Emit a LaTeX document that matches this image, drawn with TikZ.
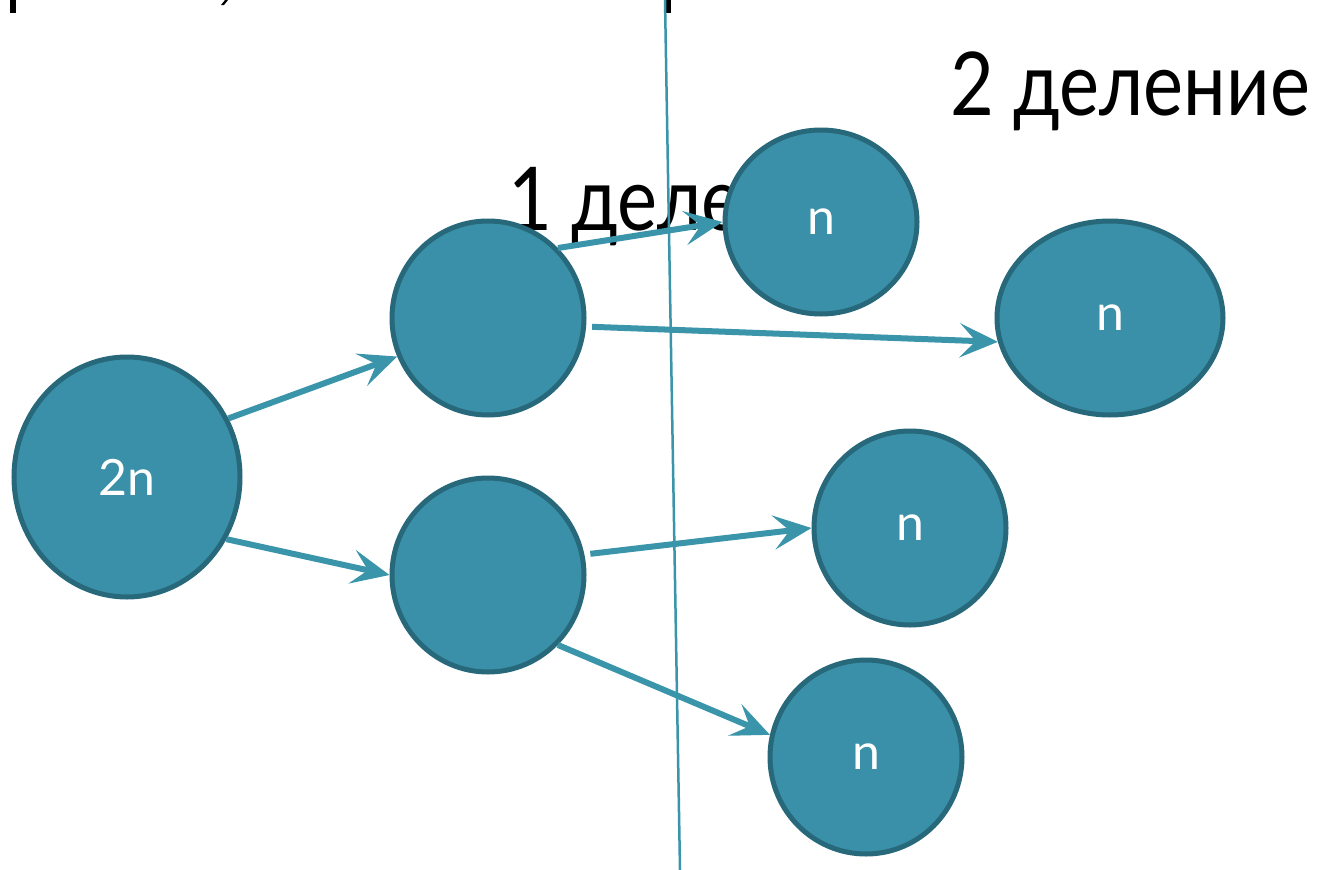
\documentclass[tikz,border=0pt]{standalone}
\usepackage{fontspec}
\setmainfont{Lato}
\newfontfamily\bigfont[FakeStretch=0.86]{Lato}
\usetikzlibrary{arrows.meta,shapes.geometric}
\definecolor{nodefill}{RGB}{58,144,168}
\definecolor{nodeedge}{RGB}{39,104,122}
\definecolor{arrowc}{RGB}{58,148,170}
\tikzset{
  cnode/.style={ellipse, draw=nodeedge, line width=5pt, fill=nodefill, inner sep=0pt, text=white, font=\fontsize{50}{54}\selectfont},
  conn/.style={draw=arrowc, line width=6pt, -{Stealth[length=38pt,width=34pt,inset=16pt]}},
  divline/.style={draw=arrowc, line width=2.5pt},
  bigtext/.style={font=\bigfont\fontsize{88}{92}\selectfont, inner sep=0pt, anchor=base west},
  frag/.style={fill=black, draw=none}
}
\begin{document}
\begin{tikzpicture}[x=1pt,y=-1pt]
\useasboundingbox[fill=white] (0,0) rectangle (1318,870);
% cut-off text fragments at the top edge
\fill[frag] (10,0) rectangle (16,13);
\fill[frag] (221,5) -- (224,5) -- (228,0) -- (225,0) -- cycle;
\fill[frag] (665,0) rectangle (671,13);
% labels
\node[bigtext] (t1) at (508,230) {1 деление};
\node[bigtext] (t2) at (950,115) {2 деление};
% divider
\coordinate (ltop) at (665,0);
\coordinate (lbot) at (680,870);
\draw[divline] (ltop) -- (lbot);
% nodes
\node[cnode, minimum width=226pt, minimum height=240pt] (r) at (127,477) {2n};
\node[cnode, minimum width=192pt, minimum height=194pt] (a) at (488,318) {};
\node[cnode, minimum width=192pt, minimum height=194pt] (b) at (488,575) {};
\node[cnode, minimum width=192pt, minimum height=184pt] (n1) at (821,222) {n};
\node[cnode, minimum width=226pt, minimum height=194pt] (n2) at (1110,318) {n};
\node[cnode, minimum width=192pt, minimum height=194pt] (n3) at (910,528) {n};
\node[cnode, minimum width=192pt, minimum height=194pt] (n4) at (866,757) {n};
% connectors
\draw[conn] (r.30) -- (a.203);
\draw[conn] (r.-32) -- (b.180);
\draw[conn] (a.45) -- (n1.180);
\draw[conn, shorten <=6pt] (a.-5) -- (n2.192);
\draw[conn, shorten <=6pt] (b.12) -- (n3.180);
\draw[conn] (b.-45) -- (n4.167);
\end{tikzpicture}
\end{document}
